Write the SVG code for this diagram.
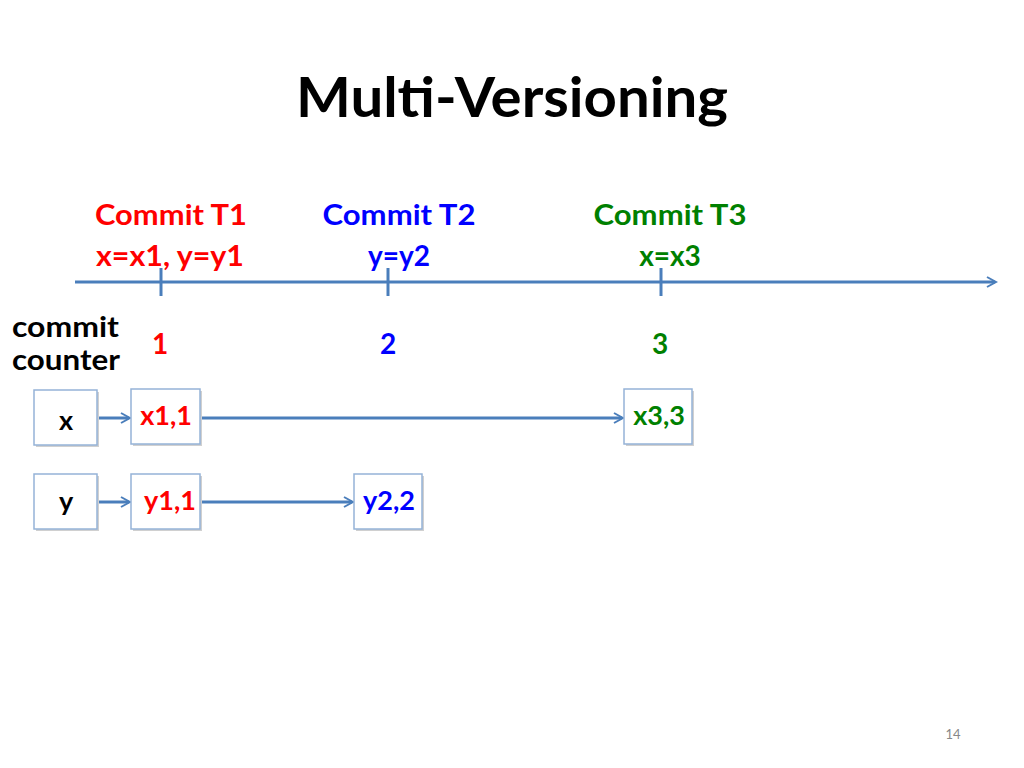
<svg xmlns="http://www.w3.org/2000/svg" width="1024" height="768" viewBox="0 0 1024 768">
<style>
text{font-family:Lato,"Open Sans","Liberation Sans",sans-serif;font-weight:bold}
.box{fill:#fff;stroke:#95b3d7;stroke-width:1.5}
.sh{fill:#d0d0d0}
.ar{stroke:#4a7ebb;stroke-width:3;fill:none;marker-end:url(#ah)}
.r{fill:#ff0000}.b{fill:#0000ff}.g{fill:#008000}
</style>
<defs><marker id="ah" markerWidth="12" markerHeight="12" refX="9" refY="6" orient="auto" markerUnits="userSpaceOnUse"><path d="M1,1 L10,6 L1,11" fill="none" stroke="#4a7ebb" stroke-width="2"/></marker></defs>
<rect width="1024" height="768" fill="#fff"/>
<text x="512" y="117" font-size="56" text-anchor="middle" textLength="432" lengthAdjust="spacingAndGlyphs">Multi-Versioning</text>
<g id="timeline">
<line x1="75" y1="282" x2="995" y2="282" class="ar"/>
<line x1="161" y1="268" x2="161" y2="296" stroke="#4a7ebb" stroke-width="3"/>
<line x1="388" y1="268" x2="388" y2="296" stroke="#4a7ebb" stroke-width="3"/>
<line x1="661" y1="268" x2="661" y2="296" stroke="#4a7ebb" stroke-width="3"/>
</g>
<g font-size="28" text-anchor="middle">
<text x="171" y="225" class="r" textLength="152" lengthAdjust="spacingAndGlyphs">Commit T1</text><text x="170" y="266" class="r" textLength="148" lengthAdjust="spacingAndGlyphs">x=x1, y=y1</text>
<text x="399" y="225" class="b" textLength="153" lengthAdjust="spacingAndGlyphs">Commit T2</text><text x="399" y="266" class="b">y=y2</text>
<text x="670" y="225" class="g" textLength="153" lengthAdjust="spacingAndGlyphs">Commit T3</text><text x="670" y="266" class="g">x=x3</text>
<text x="160" y="354" class="r">1</text><text x="388" y="354" class="b">2</text><text x="660" y="354" class="g">3</text>
</g>
<text x="12" y="337" font-size="28" textLength="107" lengthAdjust="spacingAndGlyphs">commit</text>
<text x="12" y="370" font-size="28" textLength="108" lengthAdjust="spacingAndGlyphs">counter</text>
<g id="connectors">
<line x1="97" y1="418" x2="129" y2="418" class="ar"/>
<line x1="200" y1="418" x2="622" y2="418" class="ar"/>
<line x1="97" y1="502" x2="129" y2="502" class="ar"/>
<line x1="200" y1="502" x2="352" y2="502" class="ar"/>
</g>
<g font-size="27" text-anchor="middle">
<g id="x"><rect x="36" y="392" width="63" height="55" class="sh"/><rect x="34" y="390" width="63" height="55" class="box"/><text x="66" y="430">x</text></g>
<g id="x11"><rect x="133" y="391" width="69" height="55" class="sh"/><rect x="131" y="389" width="69" height="55" class="box"/><text x="166" y="425" class="r">x1,1</text></g>
<g id="x33"><rect x="626" y="391" width="68" height="55" class="sh"/><rect x="624" y="389" width="68" height="55" class="box"/><text x="659" y="425" class="g">x3,3</text></g>
<g id="y"><rect x="36" y="476" width="63" height="55" class="sh"/><rect x="34" y="474" width="63" height="55" class="box"/><text x="66" y="511">y</text></g>
<g id="y11"><rect x="133" y="476" width="69" height="55" class="sh"/><rect x="131" y="474" width="69" height="55" class="box"/><text x="170" y="510" class="r">y1,1</text></g>
<g id="y22"><rect x="356" y="476" width="68" height="55" class="sh"/><rect x="354" y="474" width="68" height="55" class="box"/><text x="389" y="510" class="b">y2,2</text></g>
</g>
<text x="953" y="739" font-size="13" fill="#888" text-anchor="middle" style="font-weight:normal">14</text>
</svg>
